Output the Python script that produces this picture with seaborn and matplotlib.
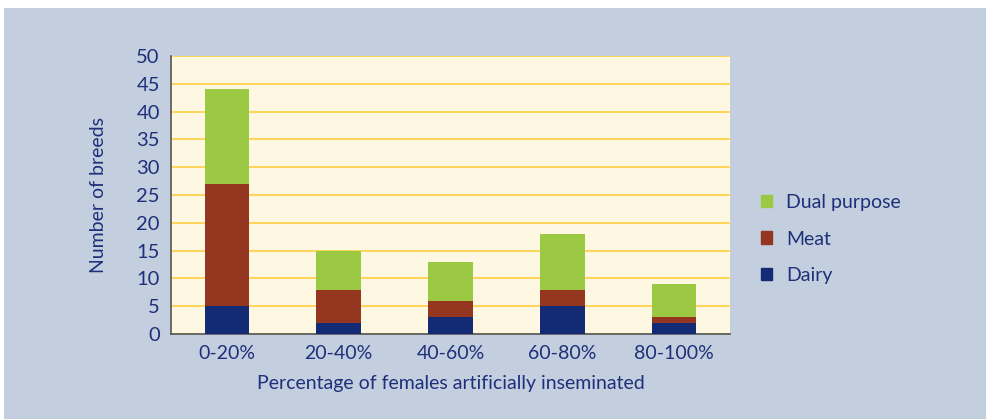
import numpy as np
import pandas as pd
import matplotlib
matplotlib.use("Agg")
import matplotlib.pyplot as plt
import seaborn as sns
from matplotlib.patches import Rectangle, Patch

categories = ["0-20%", "20-40%", "40-60%", "60-80%", "80-100%"]
dairy = [5, 2, 3, 5, 2]
meat = [22, 6, 3, 3, 1]
dual = [17, 7, 7, 10, 6]

df = pd.DataFrame({"cat": categories, "Dairy": dairy, "Meat": meat, "Dual purpose": dual})
df["meat_top"] = df["Dairy"] + df["Meat"]
df["dual_top"] = df["meat_top"] + df["Dual purpose"]

sns.set_style("white")
plt.rcParams["font.family"] = ["Lato", "DejaVu Sans"]

text_col = "#1F2F7A"
col_dual = "#9BC944"
col_meat = "#943620"
col_dairy = "#132A75"

fig = plt.figure(figsize=(9.87, 4.19), dpi=100)
fig.patch.set_facecolor("white")
fig.patches.append(Rectangle((4 / 987, 0), 1, (419 - 8) / 419, transform=fig.transFigure,
                             facecolor="#C3CFDF", edgecolor="none", zorder=-10))
ax = fig.add_axes([171 / 987, 1 - 334 / 419, (730 - 171) / 987, (334 - 56) / 419])
ax.set_facecolor("#FEF7E1")

# stacked bars drawn from the top layer down
for col, c in [("dual_top", col_dual), ("meat_top", col_meat), ("Dairy", col_dairy)]:
    sns.barplot(data=df, x="cat", y=col, color=c, width=0.4, ax=ax,
                saturation=1, edgecolor="none", zorder=3)

ax.set_ylim(0, 50)
ax.set_xlim(-0.5, 4.5)
ax.set_yticks(np.arange(0, 51, 5))
ax.yaxis.grid(True, color="#FFD34D", linewidth=1.3, zorder=1)
ax.set_axisbelow(True)
for s in ["top", "right"]:
    ax.spines[s].set_visible(False)
for s in ["left", "bottom"]:
    ax.spines[s].set_color("#555555")
    ax.spines[s].set_linewidth(1.2)

ax.set_xticks(np.arange(-0.5, 5, 1), minor=False)
ax.set_xticklabels([])
ax.set_xticks(np.arange(0, 5), minor=True)
ax.set_xticklabels(categories, minor=True)
ax.tick_params(axis="x", which="major", direction="out", length=6, color="#555555", width=1.2)
ax.tick_params(axis="x", which="minor", length=0, pad=8, labelsize=14, labelcolor=text_col)
ax.tick_params(axis="y", direction="out", length=5, color="#555555", width=1.2,
               labelsize=14.5, labelcolor=text_col, pad=3)
ax.set_xlabel("Percentage of females artificially inseminated", fontsize=14, color=text_col, labelpad=9)
ax.set_ylabel("Number of breeds", fontsize=14, color=text_col, labelpad=21)

handles = [Patch(color=col_dual, label="Dual purpose"),
           Patch(color=col_meat, label="Meat"),
           Patch(color=col_dairy, label="Dairy")]
fig.legend(handles=handles, loc="center left", bbox_to_anchor=(743 / 987, 1 - 239 / 419),
           frameon=False, fontsize=14, labelcolor=text_col, handlelength=0.6,
           handleheight=0.6, handletextpad=0.7, labelspacing=1.0)

fig.savefig("out.png", dpi=100)
